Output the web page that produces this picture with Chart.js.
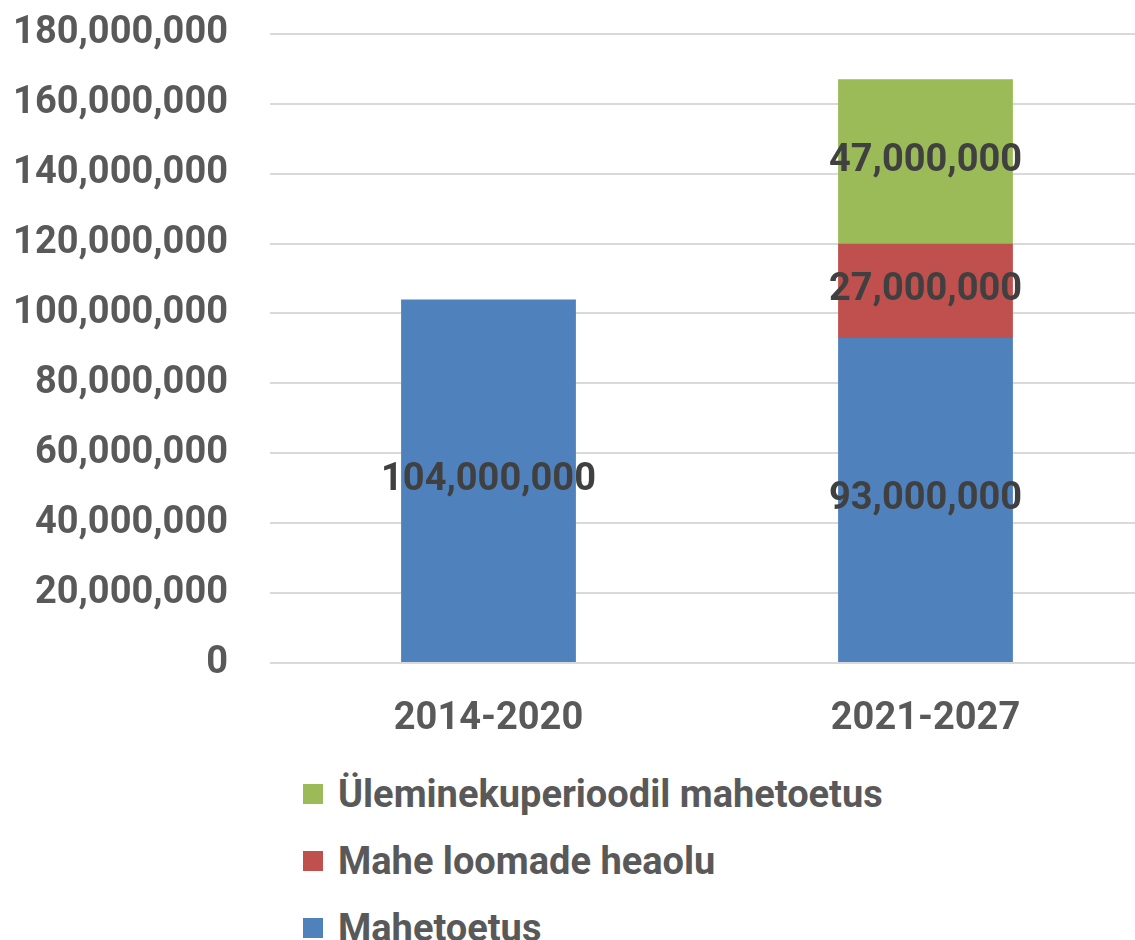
<!DOCTYPE html>
<html>
<head>
<meta charset="utf-8">
<script src="https://cdn.jsdelivr.net/npm/chart.js@4/dist/chart.umd.min.js"></script>
<style>
    body { margin: 0; background: #fff; font-family: Roboto, sans-serif; overflow: hidden; }
    .wrap { width: 1144px; height: 791px; position: relative; margin-top: -31px; }
    #legend { list-style: none; margin: 0; padding: 0 0 0 303px; }
    #legend li { height: 67px; display: flex; align-items: center; font-weight: bold; font-size: 38px; color: #595959; }
    #legend span.box { width: 20px; height: 20px; margin-right: 15px; display: inline-block; }
</style>
</head>
<body>
<div class="wrap"><canvas id="myBarChart"></canvas></div>
<ul id="legend"></ul>
<script>
// data
var periods = ['2014-2020', '2021-2027'];
var mahetoetus = [104000000, 93000000];
var loomadeHeaolu = [null, 27000000];
var yleminek = [null, 47000000];
var yTicks = [0, 20000000, 40000000, 60000000, 80000000, 100000000, 120000000, 140000000, 160000000, 180000000];

var labelFont = { family: 'Roboto', weight: 'bold', size: 38 };

function fmt(v) {
    return Number(v).toLocaleString('en-US');
}

//! values written in the middle of each segment
var segmentLabels = {
    id: 'segmentLabels',
    afterDatasetsDraw: function (chart) {
        var ctx = chart.ctx;
        ctx.save();
        ctx.font = 'bold 38px Roboto';
        ctx.fillStyle = '#404040';
        ctx.textAlign = 'center';
        ctx.textBaseline = 'middle';
        chart.data.datasets.forEach(function (ds, i) {
            var meta = chart.getDatasetMeta(i);
            meta.data.forEach(function (bar, j) {
                var v = ds.data[j];
                if (v === null) return;
                var p = bar.getCenterPoint();
                ctx.fillText(fmt(v), p.x, p.y);
            });
        });
        ctx.restore();
    }
};

var ctx = document.getElementById('myBarChart').getContext('2d');
var myBarChart = new Chart(ctx, {
    type: 'bar',
    data: {
        labels: periods,
        datasets: [
            { label: 'Mahetoetus', data: mahetoetus, backgroundColor: '#4F81BD' },
            { label: 'Mahe loomade heaolu', data: loomadeHeaolu, backgroundColor: '#C0504D' },
            { label: 'Üleminekuperioodil mahetoetus', data: yleminek, backgroundColor: '#9BBB59' }
        ]
    },
    options: {
        responsive: true,
        maintainAspectRatio: false,
        animation: false,
        layout: { padding: 0 },
        datasets: { bar: { barPercentage: 0.4, categoryPercentage: 1 } },
        scales: {
            x: {
                stacked: true,
                grid: { display: false },
                border: { display: false },
                ticks: { color: '#595959', font: labelFont, padding: 26 },
                afterFit: function (axis) { axis.height = 97; }
            },
            y: {
                stacked: true,
                min: 0,
                max: 180000000,
                afterBuildTicks: function (axis) {
                    axis.ticks = yTicks.map(function (v) { return { value: v }; });
                },
                afterFit: function (axis) { axis.width = 270; },
                grid: { color: '#d9d9d9', lineWidth: 2, drawTicks: false },
                border: { display: false },
                ticks: {
                    color: '#595959',
                    font: labelFont,
                    padding: 42,
                    callback: function (v) { return fmt(v); }
                }
            }
        },
        plugins: {
            legend: { display: false },
            tooltip: { enabled: false }
        }
    },
    plugins: [segmentLabels]
});

//! legend, listed top to bottom in reverse stacking order
function buildLegend() {
    var items = Chart.defaults.plugins.legend.labels.generateLabels(myBarChart).reverse();
    var ul = document.getElementById('legend');
    items.forEach(function (item) {
        var li = document.createElement('li');
        var box = document.createElement('span');
        box.className = 'box';
        box.style.background = item.fillStyle;
        li.appendChild(box);
        li.appendChild(document.createTextNode(item.text));
        ul.appendChild(li);
    });
}
buildLegend();
</script>
</body>
</html>
